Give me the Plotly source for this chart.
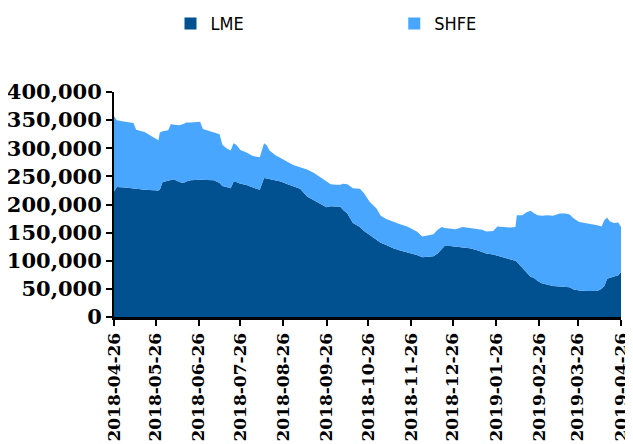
import plotly.graph_objects as go

dates = [
    "2018-04-26", "2018-04-28", "2018-05-04", "2018-05-10", "2018-05-12", "2018-05-18",
    "2018-05-24", "2018-05-28", "2018-05-29", "2018-05-31", "2018-06-04", "2018-06-06",
    "2018-06-08", "2018-06-12", "2018-06-15", "2018-06-17", "2018-06-20", "2018-06-27",
    "2018-06-29", "2018-07-03", "2018-07-07", "2018-07-11", "2018-07-13", "2018-07-16",
    "2018-07-19", "2018-07-21", "2018-07-23", "2018-07-26", "2018-07-30", "2018-08-04",
    "2018-08-09", "2018-08-11", "2018-08-12", "2018-08-14", "2018-08-16", "2018-08-20",
    "2018-08-24", "2018-08-29", "2018-09-02", "2018-09-07", "2018-09-12", "2018-09-17",
    "2018-09-21", "2018-09-26", "2018-09-29", "2018-10-03", "2018-10-06", "2018-10-08",
    "2018-10-11", "2018-10-15", "2018-10-20", "2018-10-23", "2018-10-27", "2018-11-01",
    "2018-11-04", "2018-11-08", "2018-11-13", "2018-11-18", "2018-11-23", "2018-11-27",
    "2018-11-30", "2018-12-04", "2018-12-08", "2018-12-12", "2018-12-15", "2018-12-18",
    "2018-12-20", "2018-12-24", "2018-12-28", "2019-01-02", "2019-01-07", "2019-01-12",
    "2019-01-16", "2019-01-19", "2019-01-24", "2019-01-27", "2019-01-31", "2019-02-05",
    "2019-02-09", "2019-02-10", "2019-02-14", "2019-02-17", "2019-02-20", "2019-02-22",
    "2019-02-25", "2019-02-28", "2019-03-04", "2019-03-08", "2019-03-13", "2019-03-17",
    "2019-03-20", "2019-03-23", "2019-03-27", "2019-04-01", "2019-04-06", "2019-04-09",
    "2019-04-12", "2019-04-14", "2019-04-16", "2019-04-18", "2019-04-21", "2019-04-24",
    "2019-04-26",
]

lme = [
    223000, 231000, 230000, 229000, 228000, 226000,
    225000, 225000, 226000, 240000, 242000, 244000,
    245000, 240000, 238000, 241000, 243000, 244000,
    244000, 244000, 243000, 238000, 233000, 231000,
    229000, 240000, 240000, 237000, 235000, 230000,
    226000, 240000, 247000, 246000, 245000, 243000,
    241000, 236000, 232000, 228000, 214000, 207000,
    202000, 195000, 197000, 197000, 196000, 190000,
    184000, 167000, 160000, 153000, 146000, 137000,
    132000, 128000, 122000, 118000, 115000, 112000,
    110000, 106000, 107000, 108000, 113000, 120000,
    126000, 126000, 125000, 124000, 122000, 119000,
    116000, 113000, 111000, 109000, 106000, 102000,
    100000, 98000, 87000, 80000, 71000, 70000,
    64000, 60000, 57000, 55000, 54000, 54000,
    53000, 49000, 47000, 46000, 46000, 46000,
    50000, 55000, 68000, 70000, 72000, 74000,
    80000,
]

shfe = [
    134000, 119000, 117000, 116000, 105000, 103000,
    95000, 89000, 102000, 90000, 90000, 99000,
    97000, 101000, 105000, 105000, 103000, 103000,
    90000, 87000, 86000, 87000, 73000, 69000,
    67000, 69000, 66000, 60000, 58000, 56000,
    58000, 60000, 62000, 59000, 51000, 45000,
    41000, 40000, 38000, 38000, 48000, 49000,
    47000, 45000, 39000, 38000, 39000, 47000,
    52000, 62000, 68000, 67000, 59000, 56000,
    48000, 46000, 47000, 47000, 46000, 44000,
    42000, 37000, 38000, 39000, 42000, 40000,
    32000, 31000, 31000, 36000, 36000, 38000,
    39000, 39000, 42000, 52000, 54000, 57000,
    60000, 83000, 94000, 106000, 118000, 115000,
    117000, 120000, 124000, 125000, 130000, 130000,
    129000, 126000, 122000, 121000, 118000, 117000,
    111000, 117000, 109000, 100000, 95000, 94000,
    80000,
]

tick_dates = [
    "2018-04-26", "2018-05-26", "2018-06-26", "2018-07-26", "2018-08-26",
    "2018-09-26", "2018-10-26", "2018-11-26", "2018-12-26", "2019-01-26",
    "2019-02-26", "2019-03-26", "2019-04-26",
]
y_ticks = [0, 50000, 100000, 150000, 200000, 250000, 300000, 350000, 400000]

LME_COLOR = "#01508F"
SHFE_COLOR = "#48A6FE"

fig = go.Figure()
fig.add_trace(go.Scatter(
    x=dates, y=lme, name="LME", stackgroup="one", mode="lines",
    line=dict(width=0, color=LME_COLOR), fillcolor=LME_COLOR, showlegend=False,
))
fig.add_trace(go.Scatter(
    x=dates, y=shfe, name="SHFE", stackgroup="one", mode="lines",
    line=dict(width=0, color=SHFE_COLOR), fillcolor=SHFE_COLOR, showlegend=False,
))
# legend entries with square markers (one legend per entry for exact placement)
fig.add_trace(go.Scatter(
    x=[None], y=[None], name="LME", mode="markers", legend="legend",
    marker=dict(symbol="square", size=12, color=LME_COLOR),
))
fig.add_trace(go.Scatter(
    x=[None], y=[None], name="SHFE", mode="markers", legend="legend2",
    marker=dict(symbol="square", size=12, color=SHFE_COLOR),
))

y_tick_font = dict(family="DejaVu Serif", size=21, color="black", weight="bold")
x_tick_font = dict(family="DejaVu Serif", size=17, color="black", weight="bold")
legend_font = dict(family="Liberation Sans Narrow, DejaVu Sans Condensed, sans-serif",
                   size=18, color="black")

# the page body adds an 8px offset, so the figure is 8px smaller than the window
fig.update_layout(
    width=625, height=436,
    margin=dict(l=106, r=12, t=84, b=127, autoexpand=False),
    paper_bgcolor="white", plot_bgcolor="white",
    showlegend=True,
    legend=dict(
        orientation="h", xref="container", yref="container",
        x=0.26, xanchor="left", y=0.964, yanchor="middle",
        font=legend_font, itemwidth=30, bgcolor="rgba(0,0,0,0)",
    ),
    legend2=dict(
        orientation="h", xref="container", yref="container",
        x=0.618, xanchor="left", y=0.964, yanchor="middle",
        font=legend_font, itemwidth=30, bgcolor="rgba(0,0,0,0)",
    ),
    xaxis=dict(
        type="date", range=["2018-04-26", "2019-04-26"],
        tickvals=tick_dates, tickformat="%Y-%m-%d", tickangle=-90,
        ticks="outside", ticklen=6, tickwidth=2, tickcolor="black",
        showline=True, linecolor="black", linewidth=3, showgrid=False, zeroline=False,
        tickfont=x_tick_font, automargin=False,
    ),
    yaxis=dict(
        range=[0, 400000], tickvals=y_ticks, tickformat=",",
        ticks="outside", ticklen=6, tickwidth=2, tickcolor="black",
        showline=True, linecolor="black", linewidth=2, showgrid=False, zeroline=False,
        tickfont=y_tick_font, automargin=False,
    ),
)

fig.write_html("out.html")
